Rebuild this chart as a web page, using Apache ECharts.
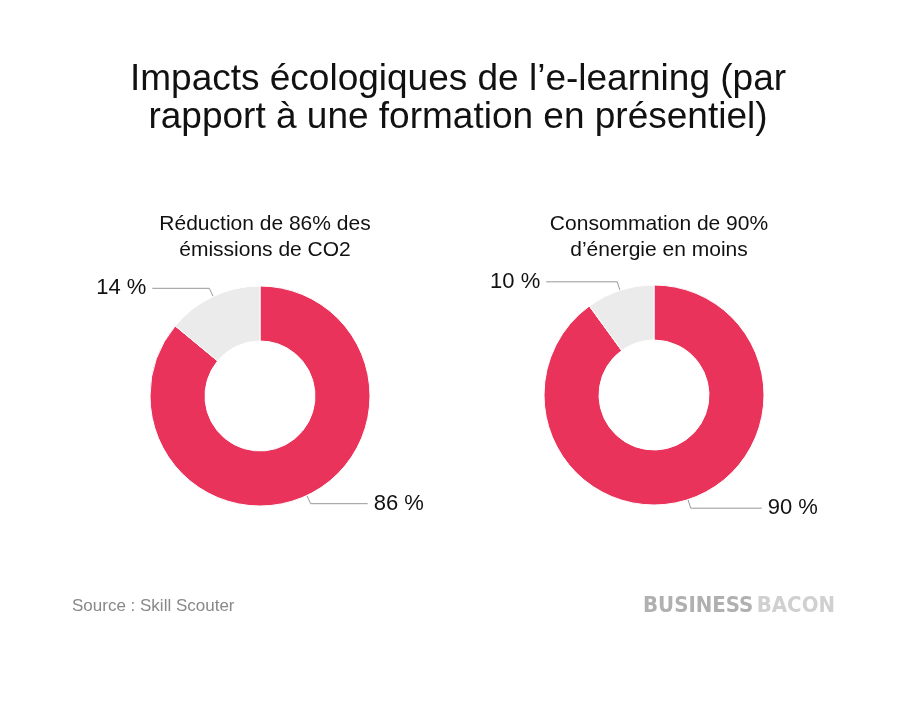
<!DOCTYPE html>
<html>
<head>
<meta charset="utf-8">
<script src="https://cdn.jsdelivr.net/npm/echarts@6/dist/echarts.min.js"></script>
<style>
  html, body { margin: 0; padding: 0; background: #fff; }
  #main { width: 916px; height: 718px; }
</style>
</head>
<body>
<div id="main"></div>
<script>
// données
var chartTitle = 'Impacts écologiques de l\u2019e-learning (par\nrapport à une formation en présentiel)';
var pieTitles = ['Réduction de 86% des\némissions de CO2', 'Consommation de 90%\nd\u2019énergie en moins'];
var mainValues = [86, 90];
var restValues = [14, 10];
var sourceText = 'Source : Skill Scouter';

var RED = '#E9335A';
var GREY = '#EBEBEB';
var FONT = '"Liberation Sans", Arial, Helvetica, sans-serif';

var centers = [[260, 396], [654, 395]];

var myChart = echarts.init(document.getElementById('main'));

function makePie(i) {
    return {
        type: 'pie',
        center: centers[i],
        radius: [55, 110],
        startAngle: 90,
        clockwise: true,
        silent: true,
        avoidLabelOverlap: false,
        itemStyle: { borderColor: '#fff', borderWidth: 1 },
        label: {
            show: true,
            formatter: '{c} %',
            fontFamily: FONT,
            fontSize: 22,
            color: '#111',
            distanceToLabelLine: 6
        },
        labelLine: {
            show: true,
            length: 9,
            length2: i === 0 ? 57 : 71,
            lineStyle: { color: '#999', width: 1 }
        },
        data: [
            { value: mainValues[i], itemStyle: { color: RED } },
            { value: restValues[i], itemStyle: { color: GREY } }
        ]
    };
}

var option = {
    backgroundColor: '#fff',
    animation: false,
    title: [
        {
            text: chartTitle,
            left: 'center',
            top: 56,
            textStyle: { fontFamily: FONT, fontSize: 37, fontWeight: 'normal', color: '#111', lineHeight: 38 }
        },
        {
            text: pieTitles[0],
            left: centers[0][0],
            textAlign: 'center',
            top: 206,
            textStyle: { fontFamily: FONT, fontSize: 21, fontWeight: 'normal', color: '#111', lineHeight: 26 }
        },
        {
            text: pieTitles[1],
            left: centers[1][0],
            textAlign: 'center',
            top: 206,
            textStyle: { fontFamily: FONT, fontSize: 21, fontWeight: 'normal', color: '#111', lineHeight: 26 }
        }
    ],
    graphic: [
        {
            type: 'text',
            left: 72,
            top: 598,
            style: { text: sourceText, font: '17px ' + FONT, fill: '#888' }
        },
        {
            type: 'text',
            left: 643,
            top: 595,
            style: {
                text: '{a|BUSINESS} {b|BACON}',
                rich: {
                    a: { font: 'bold 22px "DejaVu Sans Condensed", "Liberation Sans Narrow", sans-serif', fill: '#b0b0b0' },
                    b: { font: 'bold 22px "DejaVu Sans Condensed", "Liberation Sans Narrow", sans-serif', fill: '#d0d0d0' }
                }
            }
        }
    ],
    series: [makePie(0), makePie(1)]
};

myChart.setOption(option);
</script>
</body>
</html>
